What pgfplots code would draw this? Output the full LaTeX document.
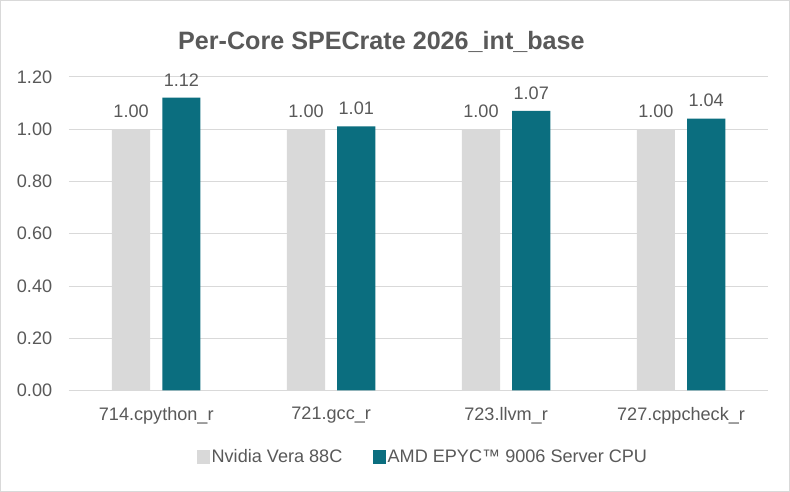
\documentclass[border=0pt]{standalone}
\usepackage{pgfplots}
\pgfplotsset{compat=1.18}
\usepackage{fontspec}
\setmainfont{Liberation Sans}
\definecolor{barGray}{HTML}{D9D9D9}
\definecolor{barTeal}{HTML}{0B6E7F}
\definecolor{txt}{HTML}{595959}
\definecolor{gridc}{HTML}{D9D9D9}
\begin{document}
\begin{tikzpicture}[x=1pt,y=1pt]
  % outer frame sets the picture size (790 x 490)
  \draw[gridc, line width=0.8pt, fill=white] (1,1) rectangle (786,489);
  \node[text=txt, font=\fontsize{25}{30}\selectfont\bfseries] at (380,448) {Per-Core SPECrate 2026\_int\_base};
  \begin{axis}[
    at={(69pt,101pt)}, anchor=south west,
    scale only axis, width=696pt, height=312pt,
    ybar=12pt, bar width=38pt,
    xmin=-0.5, xmax=3.5, ymin=0, ymax=1.2,
    xtick={0,1,2,3},
    xticklabels={714.cpython\_r,721.gcc\_r,723.llvm\_r,727.cppcheck\_r},
    ytick={0,0.2,...,1.2},
    yticklabel style={xshift=-13pt, /pgf/number format/fixed,
      /pgf/number format/fixed zerofill, /pgf/number format/precision=2},
    /pgf/number format/assume math mode=true,
    major tick length=0pt,
    axis line style={draw=none},
    axis x line*=bottom,
    x axis line style={draw=gridc, line width=0.8pt},
    ymajorgrids, grid style={gridc, line width=0.8pt},
    tick label style={text=txt, font=\fontsize{18}{22}\selectfont},
    xticklabel style={yshift=-13pt},
    nodes near coords,
    nodes near coords style={yshift=8pt, text=txt, font=\fontsize{18}{22}\selectfont,
      /pgf/number format/fixed, /pgf/number format/fixed zerofill,
      /pgf/number format/precision=2, /pgf/number format/assume math mode=true},
    legend columns=2,
    legend style={at={(0.506,-0.212)}, anchor=center, draw=none, fill=none,
      text=txt, font=\fontsize{18}{22}\selectfont,
      /tikz/every even column/.append style={column sep=28pt}},
    legend image code/.code={\fill[#1] (0pt,-6.5pt) rectangle (13pt,6.5pt);},
  ]
    \addplot[fill=barGray, draw=none] coordinates {(0,1.00) (1,1.00) (2,1.00) (3,1.00)};
    \addlegendentry{Nvidia Vera 88C}
    \addplot[fill=barTeal, draw=none] coordinates {(0,1.12) (1,1.01) (2,1.07) (3,1.04)};
    \addlegendentry{AMD EPYC™ 9006 Server CPU}
  \end{axis}
\end{tikzpicture}
\end{document}
